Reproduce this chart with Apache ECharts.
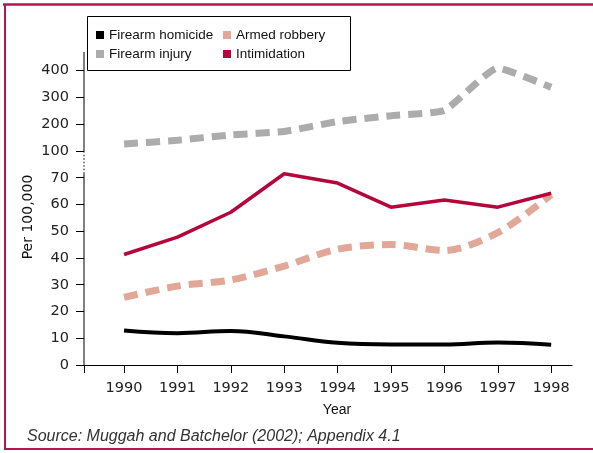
<!DOCTYPE html>
<html>
<head>
<meta charset="utf-8">
<title>Firearm crime rates 1990-1998</title>
<script src="https://cdn.jsdelivr.net/npm/echarts@6/dist/echarts.min.js"></script>
<style>
  html, body { margin: 0; padding: 0; background: #fff; }
  #chart { width: 593px; height: 453px; }
</style>
</head>
<body>
<div id="chart"></div>
<script>
// data (per 100,000)
const years = [1990, 1991, 1992, 1993, 1994, 1995, 1996, 1997, 1998]
const homicide = [12.9, 11.9, 12.7, 10.7, 8.3, 7.7, 7.7, 8.4, 7.6]
const robbery = [25.3, 29.5, 31.8, 37.0, 43.3, 45.0, 42.8, 49.5, 63.6]
const injury = [126, 140, 160, 173, 210, 232, 252, 410, 338]
const intimidation = [41.3, 47.8, 57.1, 71.5, 68.0, 59.0, 61.7, 59.0, 64.2]
const seriesNames = ['Firearm homicide', 'Armed robbery', 'Firearm injury', 'Intimidation']
const yTickLabels = ['0', '10', '20', '30', '40', '50', '60', '70', '100', '200', '300', '400']

const xMin = 1989.25
const xMax = 1998.39
const yMax = 11.7

// broken axis: 0-70 step 10, then 100-400 step 100, each step one slot
function toSlot(v) {
  return v < 100 ? v / 10 : 8 + (v - 100) / 100
}
function pairs(values) {
  return years.map((y, i) => [y, toSlot(values[i])])
}

const chart = echarts.init(document.getElementById('chart'))

const axisSeg = (data, type) => ({
  type: 'line',
  silent: true,
  clip: false,
  symbol: 'none',
  data: data,
  lineStyle: { color: '#000', width: 1, type: type },
  z: 1
})

chart.setOption({
  animation: false,
  grid: { left: 84, right: 21, top: 52, bottom: 88 },
  legend: [
    {
      data: [seriesNames[0], seriesNames[2]],
      orient: 'vertical',
      left: 96,
      top: 27,
      padding: 0,
      itemGap: 3,
      itemWidth: 8,
      itemHeight: 8,
      icon: 'rect',
      selectedMode: false,
      textStyle: { fontFamily: 'Liberation Sans', fontSize: 13.5, color: '#111', lineHeight: 16 }
    },
    {
      data: [seriesNames[1], seriesNames[3]],
      orient: 'vertical',
      left: 223,
      top: 27,
      padding: 0,
      itemGap: 3,
      itemWidth: 8,
      itemHeight: 8,
      icon: 'rect',
      selectedMode: false,
      textStyle: { fontFamily: 'Liberation Sans', fontSize: 13.5, color: '#111', lineHeight: 16 }
    }
  ],
  xAxis: {
    type: 'value',
    min: xMin,
    max: xMax,
    splitLine: { show: false },
    axisLine: { lineStyle: { color: '#000', width: 1 } },
    axisTick: { length: 8, customValues: [xMin].concat(years), lineStyle: { color: '#000' } },
    axisLabel: {
      customValues: years,
      formatter: v => String(v),
      margin: 16,
      fontFamily: 'DejaVu Sans',
      fontSize: 14.5,
      color: '#222'
    }
  },
  yAxis: {
    type: 'value',
    min: 0,
    max: yMax,
    splitLine: { show: false },
    axisLine: { show: false },
    axisTick: { length: 8, customValues: yTickLabels.map((t, i) => i), lineStyle: { color: '#000' } },
    axisLabel: {
      customValues: yTickLabels.map((t, i) => i),
      formatter: v => yTickLabels[Math.round(v)],
      margin: 15,
      padding: [0, 0, 6, 0],
      fontFamily: 'DejaVu Sans',
      fontSize: 14.5,
      color: '#222'
    }
  },
  graphic: [
    // frame
    { type: 'line', shape: { x1: 3, y1: 4.5, x2: 593, y2: 4.5 }, style: { stroke: '#b8154a', lineWidth: 2.5 } },
    { type: 'line', shape: { x1: 5, y1: 4, x2: 5, y2: 450 }, style: { stroke: '#b8154a', lineWidth: 2 } },
    { type: 'line', shape: { x1: 4, y1: 449, x2: 593, y2: 449 }, style: { stroke: '#b8154a', lineWidth: 2 } },
    // legend box
    { type: 'rect', shape: { x: 87.5, y: 16.5, width: 263, height: 54 }, style: { fill: 'transparent', stroke: '#000', lineWidth: 1 }, z: 10 },
    {
      type: 'text', x: 28, y: 217, rotation: Math.PI / 2,
      style: { text: 'Per 100,000', x: 0, y: 0, align: 'center', verticalAlign: 'middle', font: '14px "DejaVu Sans"', fill: '#111' }
    },
    {
      type: 'text', x: 337, y: 410,
      style: { text: 'Year', align: 'center', verticalAlign: 'middle', font: '14px "Liberation Sans"', fill: '#111' }
    },
    {
      type: 'text', x: 27, y: 437,
      style: { text: 'Source: Muggah and Batchelor (2002); Appendix 4.1', align: 'left', verticalAlign: 'middle', font: 'italic 16px "Liberation Sans"', fill: '#333' }
    }
  ],
  series: [
    axisSeg([[xMin, 0], [xMin, 7.15]], 'solid'),
    axisSeg([[xMin, 7.15], [xMin, 7.95]], [1.5, 2]),
    axisSeg([[xMin, 7.95], [xMin, yMax]], 'solid'),
    {
      name: seriesNames[0],
      type: 'line',
      data: pairs(homicide),
      smooth: 0.4,
      symbol: 'none',
      color: '#000',
      lineStyle: { color: '#000', width: 4 },
      z: 3
    },
    {
      name: seriesNames[1],
      type: 'line',
      data: pairs(robbery),
      smooth: 0.3,
      symbol: 'none',
      color: '#e1a797',
      lineStyle: { color: '#e1a797', width: 7, type: [14, 8] },
      z: 3
    },
    {
      name: seriesNames[2],
      type: 'line',
      data: pairs(injury),
      smooth: 0.15,
      symbol: 'none',
      color: '#acacac',
      lineStyle: { color: '#acacac', width: 7, type: [14, 8] },
      z: 3
    },
    {
      name: seriesNames[3],
      type: 'line',
      data: pairs(intimidation),
      symbol: 'none',
      color: '#b5063c',
      lineStyle: { color: '#b5063c', width: 3.5 },
      z: 4
    }
  ]
})
</script>
</body>
</html>
